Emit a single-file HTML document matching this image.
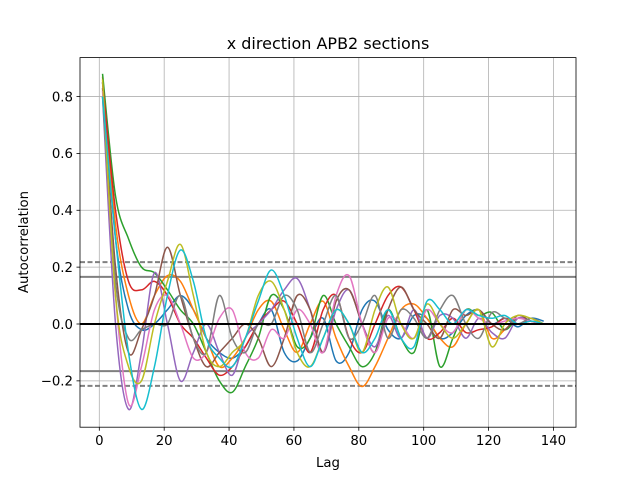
<!DOCTYPE html>
<html><head><meta charset="utf-8"><style>
body{margin:0;background:#fff}
svg text{font-family:"DejaVu Sans","Liberation Sans",sans-serif;fill:#000}
</style></head><body>
<svg id="chart" width="640" height="480" viewBox="0 0 640 480" xmlns="http://www.w3.org/2000/svg">
<rect width="640" height="480" fill="#fff"/>
<g id="grid"></g>
<g id="lines"></g>
<g id="series"></g>
<rect x="80" y="57.6" width="496" height="369.6" fill="none" stroke="#000" stroke-width="0.8"/>
<g id="ticks"></g>
<text x="328" y="49" font-size="16" text-anchor="middle">x direction APB2 sections</text>
<text x="328" y="467" font-size="13.3" text-anchor="middle">Lag</text>
<text transform="translate(28,242) rotate(-90)" font-size="13.3" text-anchor="middle">Autocorrelation</text>
</svg>
<script>
const xTicks=[0,20,40,60,80,100,120,140];
const yTicks=[-0.2,0,0.2,0.4,0.6,0.8];
const yTickLabels=["−0.2","0.0","0.2","0.4","0.6","0.8"];
const nObs=140;
const lagStep=4;
const colors=["#1f77b4","#ff7f0e","#2ca02c","#d62728","#9467bd","#8c564b","#e377c2","#7f7f7f","#bcbd22","#17becf"];
const sBlue=[0.85,0.3,0.05,-0.02,0.0,0.05,0.1,0.05,-0.05,-0.1,-0.12,-0.08,0.0,0.05,-0.1,-0.13,-0.05,0.02,-0.13,-0.1,0.05,0.08,-0.02,-0.05,0.03,0.02,-0.05,-0.03,0.03,0.05,0.0,0.02,-0.01,0.02,0.01];
const sOrange=[0.87,0.35,0.1,0.0,0.1,0.17,0.15,0.05,-0.05,-0.15,-0.12,-0.05,0.05,0.08,-0.02,-0.1,0.0,0.08,-0.05,-0.15,-0.22,-0.15,-0.05,0.05,0.07,0.02,-0.05,-0.08,0.0,0.05,-0.05,-0.02,0.02,0.01,0.0];
const sGreen=[0.88,0.45,0.3,0.2,0.18,0.12,0.05,0.0,-0.1,-0.2,-0.24,-0.15,-0.05,0.1,0.05,-0.08,-0.05,0.1,0.0,-0.08,-0.15,-0.1,0.05,-0.05,-0.1,0.05,-0.15,-0.05,0.05,0.03,0.04,-0.02,0.02,0.01,0.0];
const sRed=[0.85,0.4,0.15,0.12,0.15,0.1,0.0,-0.05,-0.12,-0.18,-0.15,-0.08,0.0,0.05,0.08,0.0,-0.1,0.05,0.1,-0.05,-0.1,0.0,0.1,0.13,0.05,-0.05,-0.03,0.02,-0.03,-0.02,-0.01,0.02,0.0,0.01,0.0];
const sPurple=[0.8,0.0,-0.3,-0.1,0.18,0.0,-0.2,-0.1,0.0,-0.1,-0.18,-0.05,0.0,0.05,0.12,0.16,0.05,-0.1,0.05,0.12,0.0,-0.08,0.03,-0.05,0.05,-0.05,0.03,0.02,-0.05,0.02,-0.03,-0.05,0.02,0.01,0.0];
const sBrown=[0.83,0.2,-0.1,-0.02,0.1,0.27,0.1,-0.05,-0.15,-0.1,-0.05,0.0,-0.05,-0.15,-0.05,0.1,0.05,-0.1,0.08,0.12,0.0,-0.1,0.05,0.13,0.05,0.0,-0.05,0.05,0.03,0.05,0.0,-0.02,0.03,0.01,0.0];
const sPink=[0.82,0.1,-0.28,-0.15,0.05,0.1,0.0,-0.12,-0.1,0.02,0.05,-0.1,-0.12,-0.02,-0.05,0.05,0.0,-0.1,0.1,0.17,0.0,-0.1,0.02,0.0,-0.05,0.05,0.0,-0.03,0.05,0.02,0.0,0.01,0.02,0.01,0.0];
const sGray=[0.8,0.15,-0.05,-0.02,0.0,0.0,0.1,-0.05,-0.1,0.1,-0.05,-0.1,0.0,0.0,0.1,0.05,-0.1,0.0,0.1,-0.05,0.0,0.1,-0.05,0.05,0.02,-0.05,0.05,0.1,0.0,-0.05,0.04,0.02,0.0,0.02,0.0];
const sOlive=[0.86,0.1,-0.15,-0.2,0.0,0.15,0.28,0.1,-0.1,-0.15,-0.1,-0.05,0.1,0.15,0.05,-0.1,-0.15,-0.05,0.05,0.0,-0.1,0.05,0.13,0.0,-0.05,0.07,0.0,-0.05,0.0,0.05,-0.08,0.0,0.03,0.02,0.0];
const sCyan=[0.8,0.3,-0.1,-0.3,-0.15,0.1,0.26,0.15,-0.05,-0.12,-0.15,-0.05,0.08,0.19,0.1,-0.05,-0.15,-0.05,0.05,0.0,-0.1,-0.05,0.05,-0.05,-0.08,0.08,0.05,0.0,0.05,0.03,0.02,0.03,0.0,0.01,0.0];
const allSeries=[sBlue,sOrange,sGreen,sRed,sPurple,sBrown,sPink,sGray,sOlive,sCyan];
const seriesNames=["series-blue","series-orange","series-green","series-red","series-purple","series-brown","series-pink","series-gray","series-olive","series-cyan"];

const L=80,R=576,T=57.6,B=427.2;
const xmin=-5.95,xmax=146.95,ymin=-0.363,ymax=0.937;
const sx=v=>L+(v-xmin)/(xmax-xmin)*(R-L);
const sy=v=>B-(v-ymin)/(ymax-ymin)*(B-T);
const NS="http://www.w3.org/2000/svg";
function mk(tag,attrs,parent){const e=document.createElementNS(NS,tag);for(const k in attrs)e.setAttribute(k,attrs[k]);parent.appendChild(e);return e;}
const grid=document.getElementById('grid'),ticks=document.getElementById('ticks'),lines=document.getElementById('lines'),series=document.getElementById('series');
xTicks.forEach(t=>{
  const g=mk('line',{x1:sx(t),x2:sx(t),y1:T,y2:B,stroke:'#b0b0b0','stroke-width':0.8},grid);
  
  
  mk('line',{x1:sx(t),x2:sx(t),y1:B,y2:B+3.5,stroke:'#000','stroke-width':0.8},ticks);
  const tx=mk('text',{x:sx(t),y:B+18,'font-size':13.3,'text-anchor':'middle'},ticks);
  tx.textContent=t;
  
  
});
yTicks.forEach((t,i)=>{
  const g=mk('line',{x1:L,x2:R,y1:sy(t),y2:sy(t),stroke:'#b0b0b0','stroke-width':0.8},grid);
  
  
  mk('line',{x1:L-3.5,x2:L,y1:sy(t),y2:sy(t),stroke:'#000','stroke-width':0.8},ticks);
  const tx=mk('text',{x:L-7,y:sy(t)+4.8,'font-size':13.3,'text-anchor':'end'},ticks);
  tx.textContent=yTickLabels[i];
  
  
});
const z99=2.5758/Math.sqrt(nObs),z95=1.96/Math.sqrt(nObs);
[[z99,'5,2.5'],[-z99,'5,2.5'],[z95,''],[-z95,'']].forEach(([v,d])=>{
  const l=mk('line',{x1:L,x2:R,y1:sy(v),y2:sy(v),stroke:'#808080','stroke-width':2},lines);
  if(d)l.setAttribute('stroke-dasharray',d);
  
  
});
allSeries.forEach((arr,si)=>{
  const pts=arr.map((v,i)=>[sx(1+i*lagStep),sy(v)]);
  let d='M'+pts[0][0]+','+pts[0][1];
  for(let i=0;i<pts.length-1;i++){
    const p0=pts[Math.max(0,i-1)],p1=pts[i],p2=pts[i+1],p3=pts[Math.min(pts.length-1,i+2)];
    const c1=[p1[0]+(p2[0]-p0[0])/6,p1[1]+(p2[1]-p0[1])/6];
    const c2=[p2[0]-(p3[0]-p1[0])/6,p2[1]-(p3[1]-p1[1])/6];
    d+=` C${c1[0]},${c1[1]} ${c2[0]},${c2[1]} ${p2[0]},${p2[1]}`;
  }
  const p=mk('path',{d:d,fill:'none',stroke:colors[si],'stroke-width':1.5},series);
  
  
});
const zl=mk('line',{x1:L,x2:R,y1:sy(0),y2:sy(0),stroke:'#000','stroke-width':2},series);


</script>
</body></html>
